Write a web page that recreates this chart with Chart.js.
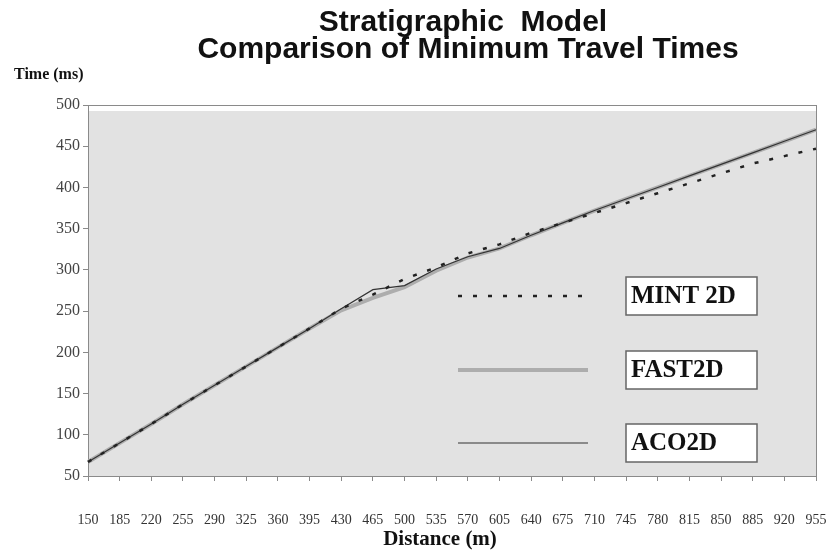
<!DOCTYPE html>
<html lang="en">
<head>
<meta charset="UTF-8" />
<title>Stratigraphic Model</title>
<script src="https://cdn.jsdelivr.net/npm/chart.js"></script>
<style>body{margin:0;background:#fff}</style>
</head>
<body>
<canvas id="chart" width="833" height="551"></canvas>
<script>
  // distances (m) along the profile
  const distances = ['150','185','220','255','290','325','360','395','430','465','500','535',
                     '570','605','640','675','710','745','780','815','850','885','920','955'];
  // minimum travel times (ms)
  const mint2d = [67, 90, 113, 137, 160, 183, 206, 229, 253, 270, 289, 303,
                  320, 331, 345, 357, 369, 381, 393, 405, 417, 429, 438, 447];
  const fast2d = [67, 90, 113, 137, 160, 183, 206, 229, 251, 266, 279, 299,
                  315, 326, 342, 357, 372, 386, 400, 414, 428, 442, 456, 470];
  const aco2d  = [67, 90, 113, 137, 160, 183, 206, 229, 253, 276, 281, 301,
                  316, 326, 342, 357, 372, 386, 400, 414, 428, 442, 456, 470];
  const titleLines = ['Stratigraphic  Model', 'Comparison of Minimum Travel Times'];
  const seriesNames = ['MINT 2D', 'FAST2D', 'ACO2D'];

  const serif = '"Liberation Serif", "Times New Roman", serif';

  const decor = {
    id: 'decor',
    beforeDraw(chart) {
      const { ctx, chartArea: a } = chart;
      ctx.save();
      ctx.fillStyle = '#e2e2e2';
      ctx.fillRect(a.left, a.top + 6, a.right - a.left, a.bottom - a.top - 6);
      ctx.strokeStyle = '#8a8a8a';
      ctx.lineWidth = 1;
      ctx.strokeRect(a.left + 0.5, a.top + 0.5, a.right - a.left, a.bottom - a.top);
      ctx.fillStyle = '#111';
      ctx.textAlign = 'center';
      ctx.font = 'bold 30px "Liberation Sans", Arial, sans-serif';
      ctx.fillText(titleLines[0], 463, 31);
      ctx.fillText(titleLines[1], 468, 58);
      ctx.font = 'bold 21px ' + serif;
      ctx.fillText('Distance (m)', 440, 545);
      ctx.textAlign = 'left';
      ctx.font = 'bold 16px ' + serif;
      ctx.fillText('Time (ms)', 14, 79);
      ctx.restore();
    },
    afterDatasetsDraw(chart) {
      const { ctx } = chart;
      const rows = [296, 370, 443];
      ctx.save();
      chart.data.datasets.forEach((ds, i) => {
        const y = rows[i];
        ctx.strokeStyle = ds.borderColor;
        ctx.lineWidth = ds.borderWidth;
        ctx.setLineDash(ds.borderDash || []);
        ctx.beginPath();
        ctx.moveTo(458, y);
        ctx.lineTo(588, y);
        ctx.stroke();
        ctx.setLineDash([]);
        ctx.fillStyle = '#fff';
        ctx.fillRect(626, y - 19, 131, 38);
        ctx.strokeStyle = '#666';
        ctx.lineWidth = 1.5;
        ctx.strokeRect(626, y - 19, 131, 38);
        ctx.fillStyle = '#111';
        ctx.font = 'bold 25px ' + serif;
        ctx.textBaseline = 'middle';
        ctx.fillText(seriesNames[i], 631, y + 1);
      });
      ctx.restore();
    }
  };

  new Chart(document.getElementById('chart'), {
    type: 'line',
    data: {
      labels: distances,
      datasets: [
        { label: seriesNames[0], data: mint2d, borderColor: '#222', borderWidth: 2.5,
          borderDash: [4, 11], pointRadius: 0, order: 0 },
        { label: seriesNames[1], data: fast2d, borderColor: '#adadad', borderWidth: 4,
          pointRadius: 0, order: 2 },
        { label: seriesNames[2], data: aco2d, borderColor: '#333', borderWidth: 1.2,
          pointRadius: 0, order: 1 }
      ]
    },
    options: {
      responsive: false,
      animation: false,
      devicePixelRatio: 1,
      layout: { padding: { top: 105, right: 17, left: 0, bottom: 0 } },
      plugins: { legend: { display: false }, tooltip: { enabled: false } },
      elements: { line: { tension: 0 } },
      scales: {
        x: {
          offset: false,
          afterFit: s => { s.height = 75; s.paddingLeft = 0; s.paddingRight = 0; },
          grid: { drawOnChartArea: false, tickLength: 5, color: '#8a8a8a' },
          border: { color: '#8a8a8a' },
          ticks: { autoSkip: false, maxRotation: 0, padding: 31, color: '#333',
                   font: { family: serif, size: 14 } }
        },
        y: {
          min: 50, max: 500,
          afterFit: s => { s.width = 88; },
          grid: { drawOnChartArea: false, tickLength: 5, color: '#8a8a8a' },
          border: { color: '#8a8a8a' },
          ticks: { stepSize: 50, padding: 3, color: '#444',
                   font: { family: serif, size: 16 } }
        }
      }
    },
    plugins: [decor]
  });
</script>
</body>
</html>
